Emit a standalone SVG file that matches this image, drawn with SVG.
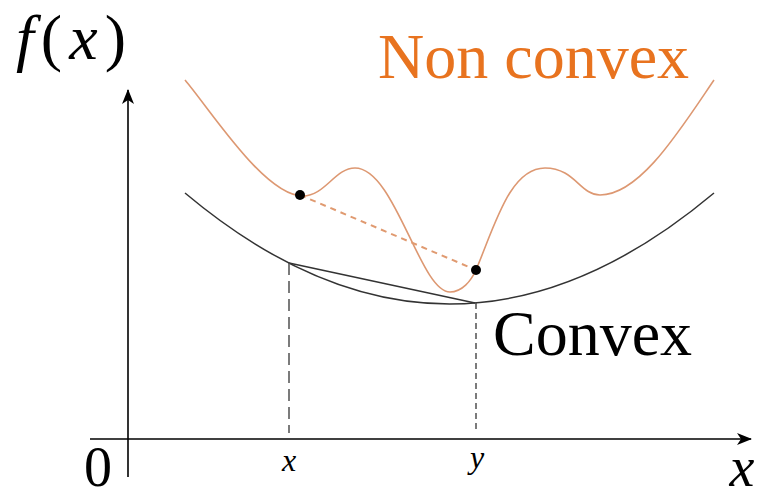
<svg xmlns="http://www.w3.org/2000/svg" width="759" height="497" viewBox="0 0 759 497">
<style>
.axis{stroke:#000;stroke-width:1.6;fill:none}
.convex{stroke:#333;stroke-width:1.5;fill:none}
.nonconvex{stroke:#dd9872;stroke-width:1.6;fill:none}
.vdash{stroke:#444;stroke-width:1.4;fill:none}
</style>
<defs>
<marker id="arr" markerWidth="16" markerHeight="12" refX="14" refY="6" orient="auto" markerUnits="userSpaceOnUse">
<path d="M0,0 L15,6 L0,12 L4,6 Z" fill="#000"/>
</marker>
</defs>
<rect width="759" height="497" fill="#fff"/>
<g id="axes">
<line class="axis" x1="90" y1="439" x2="751" y2="439" marker-end="url(#arr)"/>
<line class="axis" x1="128" y1="477" x2="128" y2="90" marker-end="url(#arr)"/>
</g>
<g id="convex-curve">
<path class="convex" d="M185,193 Q449.5,415 714,193"/>
<line class="convex" x1="289" y1="263" x2="475" y2="303"/>
<line class="vdash" x1="289" y1="263" x2="289" y2="433" stroke-dasharray="12,6"/>
<line class="vdash" x1="476" y1="303" x2="476" y2="433" stroke-dasharray="6,4"/>
</g>
<g id="nonconvex-curve">
<path class="nonconvex" d="M185,80 C212,112 265,196 303,196 C325,196 335,168 355,168 C395,168 420,292 450,292 C462,292 471,281 476,270 C495,225 510,168 545,168 C575,168 580,195 600,195 C640,195 680,130 714,80"/>
<line x1="300" y1="195" x2="476" y2="270" stroke="#e09a70" stroke-width="2" stroke-dasharray="6,5"/>
<circle cx="300" cy="195" r="5" fill="#000"/>
<circle cx="476" cy="270" r="5" fill="#000"/>
</g>
<g id="labels">
<text font-family="Liberation Serif, DejaVu Serif, serif" x="16" y="59" font-size="64" fill="#000" textLength="110" lengthAdjust="spacing"><tspan font-style="italic">f</tspan>(<tspan font-style="italic">x</tspan>)</text>
<text font-family="Liberation Serif, DejaVu Serif, serif" x="378" y="78" font-size="64" fill="#e8731f">Non convex</text>
<text font-family="Liberation Serif, DejaVu Serif, serif" x="493" y="355" font-size="64" fill="#000">Convex</text>
<text font-family="Liberation Serif, DejaVu Serif, serif" x="84" y="486" font-size="56" fill="#000">0</text>
<text font-family="Liberation Serif, DejaVu Serif, serif" font-style="italic" x="289" y="471" font-size="32" text-anchor="middle" fill="#000">x</text>
<text font-family="Liberation Serif, DejaVu Serif, serif" font-style="italic" x="477" y="468" font-size="32" text-anchor="middle" fill="#000">y</text>
<text font-family="Liberation Serif, DejaVu Serif, serif" font-style="italic" x="742" y="486" font-size="56" text-anchor="middle" fill="#000">x</text>
</g>
</svg>
